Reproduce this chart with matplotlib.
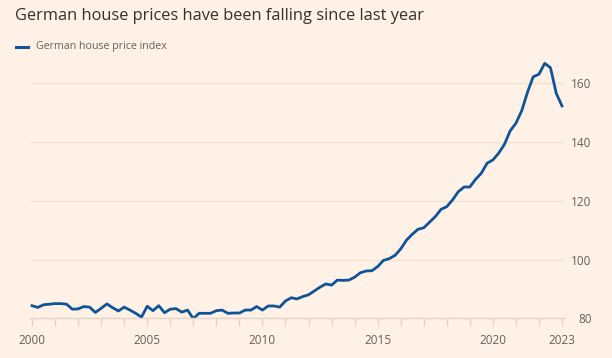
import matplotlib.pyplot as plt
import numpy as np

plt.rcParams["font.family"] = ["Open Sans", "DejaVu Sans"]

# quarterly index, 2000 Q1 .. 2023 Q1
index_values = [
    84.3, 83.7, 84.6, 84.8,
    85.0, 85.0, 84.8, 83.1,
    83.2, 84.0, 83.8, 82.0,
    83.4, 84.9, 83.6, 82.5,
    83.8, 82.8, 81.7, 80.4,
    84.1, 82.6, 84.3, 81.9,
    83.1, 83.3, 82.1, 82.8,
    79.9, 81.7, 81.7, 81.7,
    82.6, 82.8, 81.7, 81.8,
    81.8, 82.8, 82.8, 84.0,
    82.8, 84.2, 84.2, 83.8,
    85.9, 87.0, 86.6, 87.4,
    88.0, 89.3, 90.6, 91.7,
    91.3, 93.0, 92.9, 93.0,
    94.0, 95.5, 96.1, 96.2,
    97.6, 99.7, 100.3, 101.4,
    103.6, 106.6, 108.6, 110.3,
    110.8, 112.7, 114.6, 117.1,
    118.0, 120.3, 123.1, 124.7,
    124.7, 127.3, 129.4, 132.8,
    133.9, 136.2, 139.2, 143.8,
    146.4, 150.6, 156.9, 162.2,
    163.1, 166.8, 165.3, 156.6,
    152.3,
]
start_year = 2000
quarters = start_year + np.arange(len(index_values)) * 0.25

x_labels = [2000, 2005, 2010, 2015, 2020, 2023]
y_ticks = [80, 100, 120, 140, 160]

bg = "#FFF1E5"
line_col = "#0F5499"
text_col = "#66605C"

fig = plt.figure(figsize=(6.12, 3.58), dpi=100, facecolor=bg)
ax = fig.add_axes([30 / 612, 1 - 318.3 / 358, 535 / 612, 258.5 / 358])
ax.set_facecolor(bg)

ax.plot(quarters, index_values, color=line_col, lw=2.0, solid_joinstyle="round")

ax.set_xlim(2000 - 2 / 23.03, 2023 + 3 / 23.03)
ax.set_ylim(80, 168)

for s in ["top", "left", "right"]:
    ax.spines[s].set_visible(False)
ax.spines["bottom"].set_color("#E3D5C9")
ax.spines["bottom"].set_linewidth(1.0)

ax.set_yticks(y_ticks)
ax.yaxis.tick_right()
ax.tick_params(axis="y", length=0, pad=19, labelsize=8.5, labelcolor=text_col)
for lab in ax.get_yticklabels():
    lab.set_horizontalalignment("right")
ax.grid(axis="y", color="#F3E2D3", lw=1.0)
ax.set_axisbelow(True)

ax.set_xticks(range(2000, 2024), minor=True)
ax.set_xticks(x_labels)
ax.set_xticklabels([str(y) for y in x_labels])
ax.tick_params(axis="x", which="both", length=6, width=1.0, color="#E3D5C9",
               labelsize=8.5, labelcolor=text_col, pad=5)

fig.text(15 / 612, 1 - 16 / 358, "German house prices have been falling since last year",
         fontsize=11.8, color="#33302E", va="center", ha="left")
fig.lines.append(plt.Line2D([16 / 612, 28 / 612], [1 - 47 / 358, 1 - 47 / 358],
                            transform=fig.transFigure, color=line_col, lw=2.2))
fig.text(36 / 612, 1 - 47 / 358, "German house price index",
         fontsize=7.7, color=text_col, va="center", ha="left")

fig.savefig("out.png", dpi=100, facecolor=bg)
